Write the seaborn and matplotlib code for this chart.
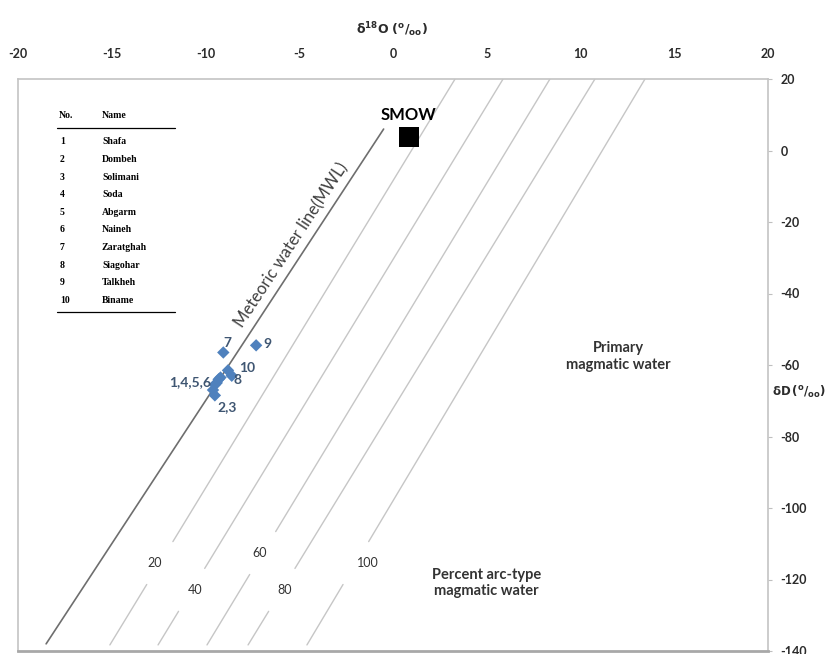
import numpy as np
import pandas as pd
import matplotlib
matplotlib.use('Agg')
import matplotlib.pyplot as plt
import seaborn as sns

# ---------------- data ----------------
sample_no = ['1', '2', '3', '4', '5', '6', '7', '8', '9', '10']
sample_name = ['Shafa', 'Dombeh', 'Solimani', 'Soda', 'Abgarm', 'Naineh',
               'Zaratghah', 'Siagohar', 'Talkheh', 'Biname']
d18O = [-9.3, -9.6, -9.5, -9.4, -9.5, -9.2, -9.05, -8.6, -7.3, -8.8]
dD = [-64.0, -67.0, -68.5, -65.0, -65.5, -63.5, -56.5, -63.0, -54.5, -61.5]

group_labels = ['7', '9', '10', '8', '1,4,5,6', '2,3']
group_x = [-8.85, -6.67, -7.79, -8.27, -10.83, -8.85]
group_y = [-53.8, -54.1, -60.8, -64.2, -64.8, -71.7]

smow_x = [0.85]
smow_y = [3.8]

mwl_x = [-18.5, -0.5]
mwl_y = [-138.0, 6.0]

pct_labels = ['20', '40', '60', '80', '100']
pct_bottom_x = [-15.1, -12.53, -9.92, -7.73, -4.59]
pct_top_x = [3.31, 5.87, 8.37, 10.77, 13.44]
pct_bottom_y = -138.3
pct_top_y = 20.0
pct_label_x = [-12.7, -10.56, -7.1, -5.76, -1.33]
pct_label_y = [-115.4, -122.9, -112.6, -122.9, -115.4]
gap = 6.0

x_ticks = [-20, -15, -10, -5, 0, 5, 10, 15, 20]
y_ticks = [20, 0, -20, -40, -60, -80, -100, -120, -140]

# ---------------- style ----------------
sns.set_theme(style='white')
plt.rcParams['font.family'] = ['Lato', 'DejaVu Sans']

W, H = 828, 654
fig = plt.figure(figsize=(W / 100, H / 100), dpi=100)
ax = fig.add_axes([18 / W, 3 / H, 750 / W, 572 / H])
ax.set_xlim(-20, 20)
ax.set_ylim(-140, 20)

# percent lines with gaps at labels
segs = []
for i, lab in enumerate(pct_labels):
    x0, x1 = pct_bottom_x[i], pct_top_x[i]
    def xat(y):
        return x0 + (y - pct_bottom_y) * (x1 - x0) / (pct_top_y - pct_bottom_y)
    ly = pct_label_y[i]
    segs.append(pd.DataFrame({'x': [x0, xat(ly - gap)], 'y': [pct_bottom_y, ly - gap], 'seg': f'{lab}a'}))
    segs.append(pd.DataFrame({'x': [xat(ly + gap), x1], 'y': [ly + gap, pct_top_y], 'seg': f'{lab}b'}))
seg_df = pd.concat(segs, ignore_index=True)
sns.lineplot(data=seg_df, x='x', y='y', units='seg', estimator=None, sort=False,
             color='#c6c6c6', lw=1.0, ax=ax, legend=False)

for i, lab in enumerate(pct_labels):
    ax.text(pct_label_x[i], pct_label_y[i], lab, ha='center', va='center',
            fontsize=9, color='#333333')

# MWL
mwl_df = pd.DataFrame({'x': mwl_x, 'y': mwl_y})
sns.lineplot(data=mwl_df, x='x', y='y', estimator=None, sort=False,
             color='#6e6e6e', lw=1.2, ax=ax)

# samples
samp_df = pd.DataFrame({'d18O': d18O, 'dD': dD, 'no': sample_no})
sns.scatterplot(data=samp_df, x='d18O', y='dD', marker='D', s=40,
                color='#4F81BD', edgecolor='none', ax=ax, zorder=5)
for t, gx, gy in zip(group_labels, group_x, group_y):
    ax.text(gx, gy, t, ha='center', va='center', fontsize=10,
            fontweight='bold', color='#3F5672', zorder=6)

# SMOW
sns.scatterplot(x=smow_x, y=smow_y, marker='s', s=200, color='black',
                edgecolor='none', ax=ax, zorder=5)
ax.text(smow_x[0], smow_y[0] + 6.2, 'SMOW', ha='center', va='center',
        fontsize=12, fontweight='bold', color='black')

# MWL text
p1 = ax.transData.transform((mwl_x[0], mwl_y[0]))
p2 = ax.transData.transform((mwl_x[1], mwl_y[1]))
ang = np.degrees(np.arctan2(p2[1] - p1[1], p2[0] - p1[0]))
ax.text(-5.4, -26.4, 'Meteoric water line(MWL)', rotation=ang,
        rotation_mode='anchor', ha='center', va='center', fontsize=12,
        color='#404040')

ax.text(12.0, -57.6, 'Primary\nmagmatic water', ha='center', va='center',
        fontsize=10.5, fontweight='bold', color='#333333', linespacing=1.25)
ax.text(5.0, -121.0, 'Percent arc-type\nmagmatic water', ha='center', va='center',
        fontsize=10.5, fontweight='bold', color='#333333', linespacing=1.25)

# legend table
tf = ax.transAxes
def fx(px):
    return (px - 18) / 750
def fy(py):
    return (651 - py) / 572
tab_font = dict(family=['Liberation Serif'], fontsize=7, fontweight='bold',
                color='black', transform=tf, va='center', ha='left')
ax.text(fx(59), fy(116), 'No.', **tab_font)
ax.text(fx(102), fy(116), 'Name', **tab_font)
ax.plot([fx(57), fx(175)], [fy(128), fy(128)], color='black', lw=0.9, transform=tf)
for i, (n, nm) in enumerate(zip(sample_no, sample_name)):
    yy = 142 + i * 17.6
    ax.text(fx(60), fy(yy), n, **tab_font)
    ax.text(fx(102), fy(yy), nm, **tab_font)
ax.plot([fx(57), fx(175)], [fy(312), fy(312)], color='black', lw=0.9, transform=tf)

# axes
ax.xaxis.tick_top()
ax.yaxis.tick_right()
ax.set_xticks(x_ticks)
ax.set_yticks(y_ticks)
ax.set_xticklabels([str(v) for v in x_ticks])
ax.set_yticklabels([str(v) for v in y_ticks])
ax.tick_params(axis='x', length=0, pad=14, labelsize=9, labelcolor='#2b2b2b')
ax.tick_params(axis='y', length=3, width=0.8, color='#bfbfbf', pad=6,
               labelsize=9, labelcolor='#2b2b2b', direction='out')
for lab in ax.get_xticklabels() + ax.get_yticklabels():
    lab.set_fontweight('bold')
ax.set_xlabel('')
ax.set_ylabel('')
for s in ['left', 'top', 'right']:
    ax.spines[s].set_color('#c4c4c4')
    ax.spines[s].set_linewidth(1.2)
ax.spines['bottom'].set_color('#a8a8a8')
ax.spines['bottom'].set_linewidth(2.0)

fig.text(392 / W, 1 - 30 / H, r'$\mathbf{\delta^{18}O\ (^{o}/_{oo})}$', ha='center', va='center',
         fontsize=9, color='#2b2b2b')
fig.text(826 / W, 1 - 392 / H, r'$\mathbf{\delta D\,(^{o}/_{oo})}$', ha='right', va='center',
         fontsize=8.5, color='#2b2b2b')

fig.savefig('out.png', dpi=100, facecolor='white')
